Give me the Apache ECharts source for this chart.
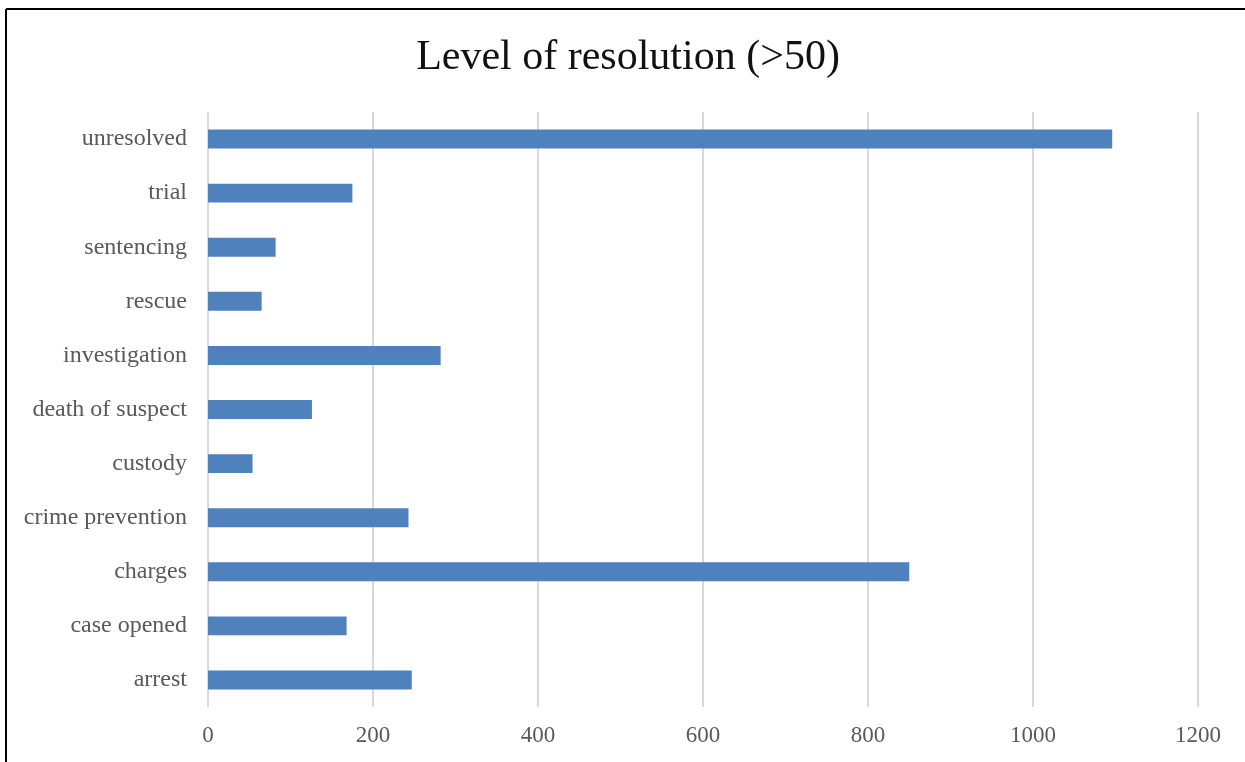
<!DOCTYPE html>
<html>
<head>
<meta charset="utf-8">
<title>Level of resolution (>50)</title>
<script src="https://cdn.jsdelivr.net/npm/echarts@6/dist/echarts.min.js"></script>
<style>
  html, body { margin: 0; padding: 0; background: #ffffff; }
  #chart { width: 1245px; height: 762px; }
</style>
</head>
<body>
<div id="chart"></div>
<script>
// Resolution levels, listed bottom to top as they appear on the axis
const categories = [
  'arrest', 'case opened', 'charges', 'crime prevention', 'custody',
  'death of suspect', 'investigation', 'rescue', 'sentencing', 'trial', 'unresolved'
];
const counts = [247, 168, 850, 243, 54, 126, 282, 65, 82, 175, 1096];
const xTicks = { min: 0, max: 1200, interval: 200 };

const serif = '"Liberation Serif", "Times New Roman", serif';
const chart = echarts.init(document.getElementById('chart'), null, { renderer: 'canvas' });

chart.setOption({
  backgroundColor: '#ffffff',
  animation: false,
  title: {
    text: 'Level of resolution (>50)',
    left: 623,
    textAlign: 'center',
    top: 32,
    textStyle: { fontFamily: serif, fontSize: 42, fontWeight: 'normal', color: '#111111' }
  },
  grid: { left: 208, right: 47, top: 112, bottom: 55, containLabel: false },
  xAxis: {
    type: 'value',
    min: xTicks.min,
    max: xTicks.max,
    interval: xTicks.interval,
    axisLine: { show: false },
    axisTick: { show: false },
    axisLabel: {
      fontFamily: serif, fontSize: 23, color: '#595959', margin: 17,
      formatter: (v) => String(v)
    },
    splitLine: { show: true, lineStyle: { color: '#d9d9d9', width: 2 } }
  },
  yAxis: {
    type: 'category',
    data: categories,
    axisLine: { show: false },
    axisTick: { show: false },
    axisLabel: { fontFamily: serif, fontSize: 24, color: '#595959', margin: 21 },
    splitLine: { show: false }
  },
  series: [{
    type: 'bar',
    data: counts,
    barCategoryGap: '65%',
    itemStyle: { color: '#4f81bd' }
  }],
  graphic: [
    // frame around the chart area (top and left edges)
    { type: 'line', shape: { x1: 6, y1: 9, x2: 1245, y2: 9 }, style: { stroke: '#000000', lineWidth: 2 } },
    { type: 'line', shape: { x1: 6, y1: 9, x2: 6, y2: 762 }, style: { stroke: '#000000', lineWidth: 2 } }
  ]
});
</script>
</body>
</html>
